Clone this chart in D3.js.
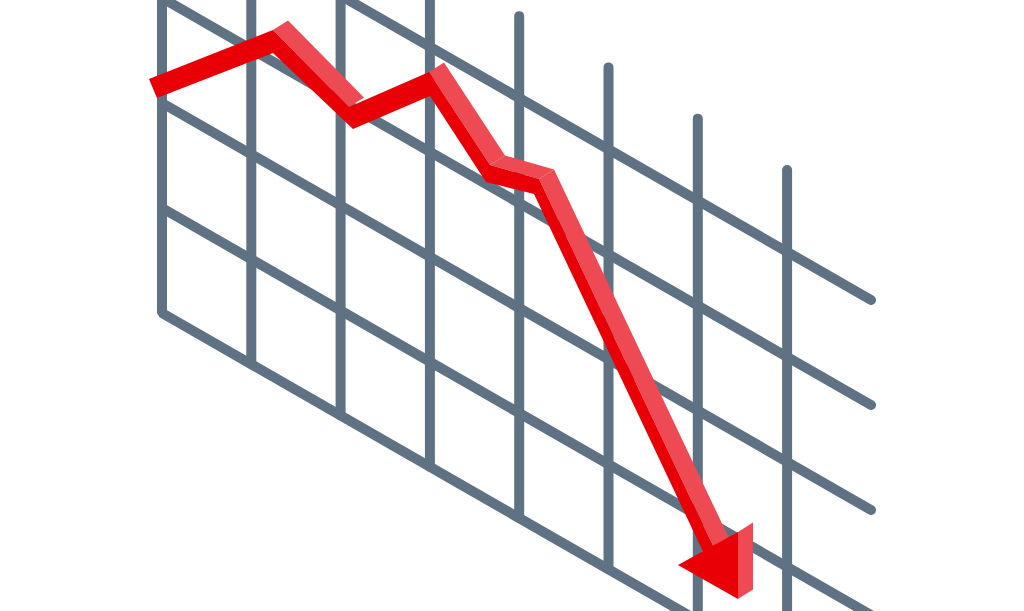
<html>
	<head>
		<title>falling chart</title>
		<script type="text/javascript" src="https://cdn.jsdelivr.net/npm/d3@7/dist/d3.min.js"></script>
		<style>
			body {
				overflow:hidden;
				margin:0px;
				padding:0px;
				background-color:#fff;
			}
			svg {display:block;}
		</style>
	</head>

	<body>
		<svg id="chart" width="1024" height="611"></svg>
		<script type="text/javascript">

			// grid, in column / row units of the slanted plane
			var columns = [0, 1, 2, 3, 4, 5, 6, 7];
			var rows = [0, 1, 2, 3, 4];
			var columnTop = 4.78;
			var rowEnd = 7.94;

			// the arrow: top edge of the ribbon, then its bottom edge
			// last points run on under the head
			var steps = [-0.146, 1.243, 2.094, 2.990, 3.673, 4.222, 6.204];
			var values = [2.157, 3.302, 2.984, 3.755, 3.203, 3.337, 0.752];
			var lowerSteps = [-0.056, 1.243, 2.139, 3.001, 3.628, 4.166, 6.092];
			var lowerValues = [2.020, 3.083, 2.796, 3.531, 3.019, 3.167, 0.641];

			// arrow head: left tip, top, bottom
			var headSteps = [5.778, 6.450, 6.450];
			var headValues = [0.421, 1.063, 0.425];

			var gridColor = '#5f7283';
			var darkRed = '#e80006';
			var lightRed = '#ed4a54';
			var depthX = 15;  //side face of the ribbon
			var depthY = -9.5;

			var xScale = d3.scaleLinear().domain([0, 1]).range([162, 251.3]);
			var yScale = d3.scaleLinear().domain([0, 1]).range([313, 208]);
			var shear = d3.scaleLinear().domain([0, 1]).range([0, 51.26]);

			function point(u, v) {
				return [xScale(u), yScale(v) + shear(u)];
			}

			function zipPoints(us, vs) {
				return us.map(function(u, i) {return point(u, vs[i])});
			}

			function shift(p) {
				return [p[0] + depthX, p[1] + depthY];
			}

			var line = d3.line();
			var svg = d3.select('#chart');

			// the corner bottom left is one path so it gets a flat join
			svg.append('path')
				.attr('d', line([point(0, columnTop), point(0, 0), point(rowEnd, 0)]))
				.attr('fill', 'none')
				.attr('stroke', gridColor)
				.attr('stroke-width', 10)
				.attr('stroke-linejoin', 'bevel')
				.attr('stroke-linecap', 'round');

			svg.selectAll('line.column')
				.data(columns.slice(1))
				.enter()
				.append('line')
				.attr('class', 'column')
				.attr('x1', function(d) {return point(d, 0)[0]})
				.attr('y1', function(d) {return point(d, 0)[1]})
				.attr('x2', function(d) {return point(d, columnTop)[0]})
				.attr('y2', function(d) {return point(d, columnTop)[1]})
				.attr('stroke', gridColor)
				.attr('stroke-width', 10)
				.attr('stroke-linecap', 'round');

			svg.selectAll('line.row')
				.data(rows.slice(1))
				.enter()
				.append('line')
				.attr('class', 'row')
				.attr('x1', function(d) {return point(0, d)[0]})
				.attr('y1', function(d) {return point(0, d)[1]})
				.attr('x2', function(d) {return point(rowEnd, d)[0]})
				.attr('y2', function(d) {return point(rowEnd, d)[1]})
				.attr('stroke', gridColor)
				.attr('stroke-width', 10)
				.attr('stroke-linecap', 'round');

			var upper = zipPoints(steps, values);
			var lower = zipPoints(lowerSteps, lowerValues);
			var head = zipPoints(headSteps, headValues);

			// side faces only show where the ribbon goes down
			var faces = d3.pairs(upper).filter(function(d) {return d[1][1] > d[0][1]});

			svg.selectAll('path.face')
				.data(faces)
				.enter()
				.append('path')
				.attr('class', 'face')
				.attr('d', function(d) {return line([d[0], shift(d[0]), shift(d[1]), d[1]]) + 'Z'})
				.attr('fill', lightRed);

			svg.append('path')
				.attr('class', 'ribbon')
				.attr('d', line(upper.concat(lower.slice().reverse())) + 'Z')
				.attr('fill', darkRed);

			svg.append('path')
				.attr('class', 'headside')
				.attr('d', line([head[1], shift(head[1]), shift(head[2]), head[2]]) + 'Z')
				.attr('fill', lightRed);

			svg.append('path')
				.attr('class', 'head')
				.attr('d', line(head) + 'Z')
				.attr('fill', darkRed);

		</script>
	</body>

</html>
